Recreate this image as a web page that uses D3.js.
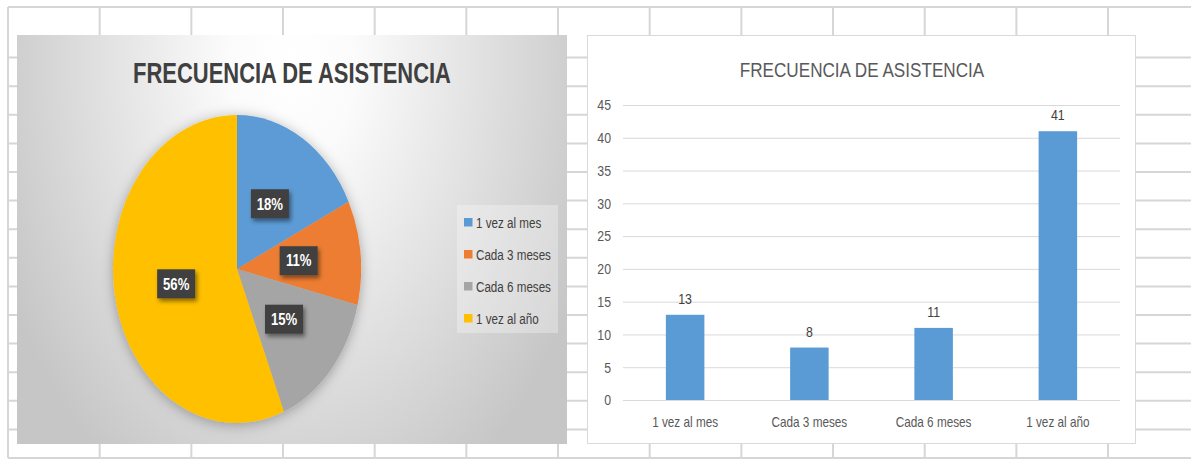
<!DOCTYPE html>
<html lang="es">
<head>
    <meta charset="UTF-8">
    <title>Frecuencia de asistencia</title>
    <script src="https://d3js.org/d3.v7.min.js"></script>
    <style>
        body { margin: 0; background: #fff; }
        text { font-family: "Liberation Sans", Arial, sans-serif; }
    </style>
</head>
<body>
<script>
    // data
    const categories = ["1 vez al mes", "Cada 3 meses", "Cada 6 meses", "1 vez al año"];
    const values = [13, 8, 11, 41];
    const sliceColors = ["#5B9BD5", "#ED7D31", "#A5A5A5", "#FFC000"];
    const yTicks = [0, 5, 10, 15, 20, 25, 30, 35, 40, 45];
    const chartTitle = "FRECUENCIA DE ASISTENCIA";

    const width = 1191, height = 460;
    const svg = d3.select("body").append("svg")
            .attr("width", width).attr("height", height);
    const defs = svg.append("defs");

    // the reference uses a narrow (Calibri-like) face, so squeeze the text horizontally
    function squeeze(sel, k) {
        sel.each(function() {
            const w = this.getComputedTextLength();
            d3.select(this).attr("textLength", w * k).attr("lengthAdjust", "spacingAndGlyphs");
        });
    }

    // spreadsheet grid behind the charts
    const grid = svg.append("g").attr("class", "sheet")
            .style("stroke", "#d6d6d6").style("stroke-width", 2);
    d3.range(13).map(i => 8 + i * 91.67).forEach(x => {
        grid.append("line").attr("x1", x).attr("x2", x).attr("y1", 7).attr("y2", 458);
    });
    [7].concat(d3.range(15).map(i => 458 - i * 28.6)).forEach(y => {
        grid.append("line").attr("x1", 8).attr("x2", width).attr("y1", y).attr("y2", y);
    });

    // ---------- pie chart ----------
    const bg = defs.append("radialGradient").attr("id", "pieBg")
            .attr("gradientUnits", "userSpaceOnUse")
            .attr("cx", 292).attr("cy", 60).attr("r", 320)
            .attr("gradientTransform", "translate(292,60) scale(1,1.55) translate(-292,-60)");
    bg.append("stop").attr("offset", "0").attr("stop-color", "#ffffff");
    bg.append("stop").attr("offset", "0.2").attr("stop-color", "#fbfbfb");
    bg.append("stop").attr("offset", "1").attr("stop-color", "#c6c6c6");

    const pieShadow = defs.append("filter").attr("id", "pieShadow")
            .attr("x", "-20%").attr("y", "-20%").attr("width", "140%").attr("height", "140%");
    pieShadow.append("feDropShadow").attr("dx", 0).attr("dy", 2)
            .attr("stdDeviation", 7).attr("flood-color", "#000").attr("flood-opacity", 0.3);

    const boxShadow = defs.append("filter").attr("id", "boxShadow")
            .attr("x", "-30%").attr("y", "-30%").attr("width", "170%").attr("height", "170%");
    boxShadow.append("feDropShadow").attr("dx", 2).attr("dy", 3)
            .attr("stdDeviation", 2).attr("flood-color", "#000").attr("flood-opacity", 0.45);

    svg.append("rect").attr("x", 17).attr("y", 35).attr("width", 550).attr("height", 409)
            .style("fill", "url(#pieBg)");

    svg.append("text")
            .attr("x", 292).attr("y", 83)
            .attr("text-anchor", "middle")
            .style("font-size", "29px").style("font-weight", "bold")
            .style("fill", "#404040")
            .text(chartTitle)
            .call(squeeze, 0.757);

    const rx = 124, ry = 154;
    const pieG = svg.append("g").attr("transform", "translate(237,269)");
    const pie = d3.pie().sort(null).value(d => d);
    const arcs = pie(values);
    const arc = d3.arc().innerRadius(0).outerRadius(ry);
    const total = d3.sum(values);
    const pct = d3.format(".0%");

    pieG.append("g")
            .attr("transform", `scale(${rx / ry},1)`)
            .style("filter", "url(#pieShadow)")
            .selectAll("path")
            .data(arcs)
            .enter()
            .append("path")
            .attr("d", arc)
            .style("fill", (d, i) => sliceColors[i]);

    const labels = pieG.selectAll("g.plabel")
            .data(arcs)
            .enter()
            .append("g").attr("class", "plabel")
            .attr("transform", d => {
                const c = arc.centroid(d);
                return `translate(${c[0] * rx / ry},${c[1]})`;
            });
    labels.append("rect")
            .attr("x", -19).attr("y", -14.5).attr("width", 38).attr("height", 29)
            .style("fill", "#404040")
            .style("filter", "url(#boxShadow)");
    labels.append("text")
            .attr("text-anchor", "middle").attr("dy", "0.36em")
            .style("font-size", "16px").style("font-weight", "bold")
            .style("fill", "#fff")
            .text(d => pct(d.value / total))
            .call(squeeze, 0.82);

    // legend
    const legend = svg.append("g").attr("transform", "translate(457,205)");
    legend.append("rect").attr("width", 101).attr("height", 128)
            .style("fill", "#fff").style("fill-opacity", 0.3);
    const items = legend.selectAll("g.item")
            .data(categories)
            .enter()
            .append("g").attr("class", "item")
            .attr("transform", (d, i) => `translate(7,${17.5 + i * 32})`);
    items.append("rect").attr("y", -4.5).attr("width", 8.5).attr("height", 8.5)
            .style("fill", (d, i) => sliceColors[i]);
    items.append("text").attr("x", 12).attr("dy", "0.36em")
            .style("font-size", "14px").style("fill", "#404040")
            .text(d => d)
            .call(squeeze, 0.83);

    // ---------- bar chart ----------
    svg.append("rect").attr("x", 587.5).attr("y", 35.5).attr("width", 548).attr("height", 408)
            .style("fill", "#fff").style("stroke", "#d9d9d9");

    svg.append("text")
            .attr("x", 862).attr("y", 77)
            .attr("text-anchor", "middle")
            .style("font-size", "21px").style("fill", "#595959")
            .text(chartTitle)
            .call(squeeze, 0.815);

    const plot = {left: 623, right: 1120, top: 105, bottom: 400};
    const y = d3.scaleLinear().domain([0, 45]).range([plot.bottom, plot.top]);
    const x = d3.scaleBand().domain(categories)
            .range([plot.left, plot.right])
            .paddingInner(0.69).paddingOuter(0.345);

    const yAxis = svg.append("g")
            .attr("transform", `translate(${plot.left},0)`)
            .call(d3.axisLeft(y).tickValues(yTicks)
                    .tickSize(-(plot.right - plot.left)).tickPadding(12));
    yAxis.select(".domain").remove();
    yAxis.selectAll("line").style("stroke", "#d9d9d9");
    yAxis.selectAll("text").style("font-size", "15px").style("fill", "#595959")
            .style("font-family", "'Liberation Sans', sans-serif")
            .call(squeeze, 0.82);

    const xAxis = svg.append("g")
            .attr("transform", `translate(0,${plot.bottom})`)
            .call(d3.axisBottom(x).tickSize(0).tickPadding(16.5));
    xAxis.select(".domain").remove();
    xAxis.selectAll("text").style("font-size", "14.5px").style("fill", "#595959")
            .style("font-family", "'Liberation Sans', sans-serif")
            .call(squeeze, 0.81);

    const bars = svg.selectAll("g.bar")
            .data(values)
            .enter()
            .append("g").attr("class", "bar");
    bars.append("rect")
            .attr("x", (d, i) => x(categories[i]))
            .attr("y", d => y(d))
            .attr("width", x.bandwidth())
            .attr("height", d => y(0) - y(d))
            .style("fill", "#5B9BD5");
    bars.append("text")
            .attr("x", (d, i) => x(categories[i]) + x.bandwidth() / 2)
            .attr("y", d => y(d) - 11)
            .attr("text-anchor", "middle")
            .style("font-size", "15px").style("fill", "#404040")
            .text(d => d)
            .call(squeeze, 0.82);
</script>
</body>
</html>
